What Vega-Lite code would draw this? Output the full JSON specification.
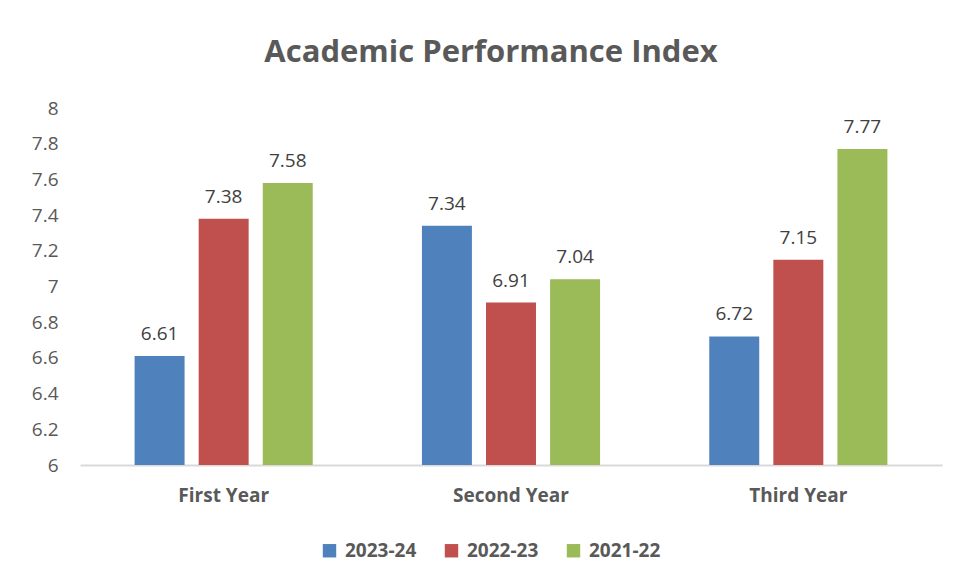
{
  "$schema": "https://vega.github.io/schema/vega-lite/v6.json",
  "autosize": "none",
  "width": 862,
  "height": 357,
  "padding": {"left": 80, "top": 108, "right": 19, "bottom": 116},
  "background": "white",
  "title": {
    "text": "Academic Performance Index",
    "font": "Open Sans",
    "fontSize": 31,
    "fontWeight": "bold",
    "color": "#595959",
    "anchor": "middle",
    "frame": "group",
    "dx": -20,
    "offset": 30
  },
  "data": {
    "values": [
      {"cat": "First Year", "year": "2023-24", "value": 6.61},
      {"cat": "First Year", "year": "2022-23", "value": 7.38},
      {"cat": "First Year", "year": "2021-22", "value": 7.58},
      {"cat": "Second Year", "year": "2023-24", "value": 7.34},
      {"cat": "Second Year", "year": "2022-23", "value": 6.91},
      {"cat": "Second Year", "year": "2021-22", "value": 7.04},
      {"cat": "Third Year", "year": "2023-24", "value": 6.72},
      {"cat": "Third Year", "year": "2022-23", "value": 7.15},
      {"cat": "Third Year", "year": "2021-22", "value": 7.77}
    ]
  },
  "encoding": {
    "x": {
      "field": "cat", "type": "nominal", "sort": null, "title": null,
      "scale": {"paddingInner": 0.38, "paddingOuter": 0.19},
      "axis": {
        "labelAngle": 0, "labelFont": "Open Sans", "labelFontSize": 19, "labelFontWeight": "bold",
        "labelColor": "#595959", "labelPadding": 21, "ticks": false,
        "domainColor": "#d9d9d9", "domainWidth": 2
      }
    },
    "xOffset": {"field": "year", "type": "nominal", "sort": ["2023-24", "2022-23", "2021-22"], "scale": {"paddingInner": 0.22, "paddingOuter": 0}},
    "y": {
      "field": "value", "type": "quantitative", "title": null,
      "scale": {"domain": [6, 8], "zero": false, "nice": false},
      "axis": {
        "values": [6, 6.2, 6.4, 6.6, 6.8, 7, 7.2, 7.4, 7.6, 7.8, 8],
        "format": "~g",
        "labelFont": "Open Sans", "labelFontSize": 19, "labelColor": "#595959",
        "domain": false, "ticks": false, "grid": false, "labelPadding": 22
      }
    }
  },
  "layer": [
    {
      "mark": {"type": "bar"},
      "encoding": {
        "y2": {"datum": 6},
        "color": {
          "field": "year", "type": "nominal", "title": null,
          "sort": ["2023-24", "2022-23", "2021-22"],
          "scale": {"domain": ["2023-24", "2022-23", "2021-22"], "range": ["#4f81bd", "#c0504d", "#9bbb59"]},
          "legend": {
            "orient": "none", "legendX": 240, "legendY": 433,
            "direction": "horizontal", "symbolType": "square", "symbolSize": 180,
            "symbolStrokeWidth": 0, "symbolOpacity": 1,
            "labelFont": "Open Sans", "labelFontSize": 19, "labelFontWeight": "bold", "labelColor": "#595959",
            "columnPadding": 25, "labelOffset": 6
          }
        }
      }
    },
    {
      "mark": {"type": "text", "baseline": "bottom", "dy": -12, "font": "Open Sans", "fontSize": 19, "color": "#404040"},
      "encoding": {"text": {"field": "value", "type": "quantitative", "format": ".2f"}}
    }
  ],
  "config": {"view": {"stroke": null}}
}
